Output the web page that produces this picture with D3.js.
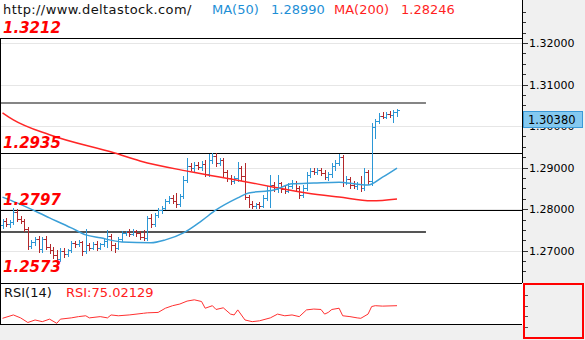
<!DOCTYPE html>
<html>
<head>
<meta charset="utf-8">
<script src="https://cdn.jsdelivr.net/npm/d3@7"></script>
<style>
  body { margin: 0; background: #fff; }
  svg { display: block; font-family: "DejaVu Sans", Verdana, sans-serif; }
</style>
</head>
<body>
<svg id="chart" width="585" height="340"></svg>
<script>
// ---- OHLC bars (hourly) ----
const openP = [1.2762,1.2772,1.2764,1.2769,1.2793,1.2776,1.2772,1.2752,1.2711,1.2721,
  1.2728,1.2704,1.2728,1.2709,1.2702,1.2690,1.2680,1.2699,1.2692,1.2702,
  1.2719,1.2716,1.2721,1.2699,1.2714,1.2707,1.2716,1.2707,1.2716,1.2723,
  1.2736,1.2714,1.2707,1.2728,1.2743,1.2745,1.2740,1.2748,1.2743,1.2733,
  1.2731,1.2779,1.2764,1.2786,1.2798,1.2803,1.2820,1.2827,1.2820,1.2813,
  1.2832,1.2870,1.2904,1.2899,1.2906,1.2902,1.2909,1.2885,1.2918,1.2928,
  1.2911,1.2918,1.2890,1.2875,1.2868,1.2875,1.2899,1.2880,1.2829,1.2813,
  1.2808,1.2813,1.2808,1.2827,1.2846,1.2858,1.2849,1.2863,1.2849,1.2844,
  1.2856,1.2863,1.2851,1.2834,1.2851,1.2882,1.2892,1.2890,1.2894,1.2887,
  1.2878,1.2885,1.2904,1.2911,1.2926,1.2865,1.2873,1.2858,1.2856,1.2861,
  1.2851,1.2890,1.2868,1.2998,1.3012,1.3024,1.3022,1.3029,1.3027,1.3034];
const highP = [1.2776,1.2779,1.2774,1.2803,1.2800,1.2784,1.2776,1.2757,1.2726,1.2733,
  1.2736,1.2733,1.2736,1.2716,1.2709,1.2702,1.2707,1.2707,1.2704,1.2723,
  1.2723,1.2726,1.2723,1.2752,1.2719,1.2721,1.2723,1.2719,1.2728,1.2750,
  1.2740,1.2719,1.2733,1.2748,1.2748,1.2752,1.2752,1.2750,1.2748,1.2750,
  1.2784,1.2788,1.2791,1.2803,1.2808,1.2825,1.2832,1.2834,1.2839,1.2837,
  1.2880,1.2923,1.2911,1.2914,1.2914,1.2916,1.2918,1.2933,1.2935,1.2935,
  1.2923,1.2923,1.2894,1.2882,1.2880,1.2914,1.2904,1.2911,1.2834,1.2820,
  1.2815,1.2817,1.2834,1.2856,1.2882,1.2865,1.2882,1.2865,1.2856,1.2863,
  1.2870,1.2868,1.2856,1.2858,1.2890,1.2899,1.2899,1.2899,1.2899,1.2894,
  1.2890,1.2911,1.2918,1.2933,1.2930,1.2880,1.2878,1.2868,1.2865,1.2880,
  1.2899,1.2894,1.3007,1.3017,1.3032,1.3034,1.3034,1.3036,1.3038,1.3041];
const lowP = [1.2755,1.2760,1.2757,1.2764,1.2772,1.2767,1.2748,1.2704,1.2707,1.2714,
  1.2697,1.2697,1.2704,1.2695,1.2683,1.2668,1.2675,1.2685,1.2687,1.2697,
  1.2709,1.2711,1.2690,1.2695,1.2702,1.2704,1.2702,1.2704,1.2711,1.2709,
  1.2702,1.2697,1.2704,1.2723,1.2738,1.2736,1.2738,1.2736,1.2728,1.2726,
  1.2726,1.2757,1.2760,1.2781,1.2791,1.2800,1.2815,1.2815,1.2805,1.2808,
  1.2827,1.2865,1.2894,1.2890,1.2897,1.2894,1.2880,1.2880,1.2911,1.2904,
  1.2906,1.2880,1.2868,1.2861,1.2863,1.2868,1.2870,1.2825,1.2805,1.2803,
  1.2803,1.2803,1.2805,1.2822,1.2805,1.2844,1.2841,1.2841,1.2839,1.2841,
  1.2851,1.2846,1.2827,1.2829,1.2846,1.2878,1.2885,1.2885,1.2882,1.2873,
  1.2870,1.2878,1.2894,1.2906,1.2856,1.2861,1.2851,1.2851,1.2849,1.2844,
  1.2846,1.2861,1.2858,1.2971,1.3007,1.3020,1.3020,1.3022,1.3010,1.3024];
const closeP = [1.2772,1.2764,1.2769,1.2793,1.2776,1.2772,1.2752,1.2711,1.2721,1.2728,
  1.2704,1.2728,1.2709,1.2702,1.2690,1.2680,1.2699,1.2692,1.2702,1.2719,
  1.2716,1.2721,1.2699,1.2714,1.2707,1.2716,1.2707,1.2716,1.2723,1.2736,
  1.2714,1.2707,1.2728,1.2743,1.2745,1.2740,1.2748,1.2743,1.2733,1.2731,
  1.2779,1.2764,1.2786,1.2798,1.2803,1.2820,1.2827,1.2820,1.2813,1.2832,
  1.2870,1.2904,1.2899,1.2906,1.2902,1.2909,1.2885,1.2918,1.2928,1.2911,
  1.2918,1.2890,1.2875,1.2868,1.2875,1.2899,1.2880,1.2829,1.2813,1.2808,
  1.2813,1.2808,1.2827,1.2846,1.2858,1.2849,1.2863,1.2849,1.2844,1.2856,
  1.2863,1.2851,1.2834,1.2851,1.2882,1.2892,1.2890,1.2894,1.2887,1.2878,
  1.2885,1.2904,1.2911,1.2926,1.2865,1.2873,1.2858,1.2856,1.2861,1.2851,
  1.2890,1.2868,1.2998,1.3012,1.3024,1.3022,1.3029,1.3027,1.3034,1.30380];

// ---- moving averages (bar index, value) ----
const ma50Idx = [0,4,13,19,23,27,33,41,45,50,55,59,65,68,75,80,86,93,98,101,105,109];
const ma50Val = [1.2829,1.2815,1.2779,1.2755,1.2738,1.2731,1.2721,1.2719,1.2726,1.2743,1.2772,1.2798,
  1.2827,1.2839,1.2846,1.2861,1.2863,1.2865,1.2860,1.2858,1.2877,1.28990];
const ma200Idx = [0,3,13,31,38,52,66,75,84,93,102,109];
const ma200Val = [1.3032,1.3015,1.2979,1.2935,1.2916,1.2890,1.2868,1.2853,1.2839,1.2829,1.2820,1.28246];

// ---- RSI(14) ----
const rsiIdx = [0,3,5,7,9,11,13,15,16,19,21,23,24,27,29,30,32,35,39,40,43,45,47,49,51,53,55,56,58,59,
  61,63,64,65,67,69,71,74,76,78,80,82,84,86,88,89,90,91,93,94,96,98,99,101,102,103,105,109];
const rsiVal = [45,53,46,35,41,37,43,33,43,46,49,51,46,49,46,53,51,53,57,58,59,69,75,79,86,89,85,69,75,66,
  70,55,53,65,41,37,39,46,55,51,53,49,65,67,66,55,59,66,69,51,49,46,45,55,73,75,74,75.02129];
const rsiTicks = [25,50,75,100];

// ---- axis & levels ----
const priceTicks = [1.27,1.28,1.29,1.30,1.31,1.32];
const minorStep = 0.0025;
const levels = [1.3212, 1.2935, 1.2797, 1.2573];
const channelVals = [1.3055, 1.2745];
const channelEndIdx = 117;
const lastPrice = 1.30380, ma50Last = 1.28990, ma200Last = 1.28246, rsiLast = 75.02129;

// ---- layout ----
const W = 585, H = 340, plotR = 522, mainTop = 0, mainBot = 283, rsiTop = 283, rsiBot = 324;
const upCol = "#2b97d6", downCol = "#b3282b", ma50Col = "#3a9fd8", ma200Col = "#ff2626";

const svg = d3.select("#chart");
const x = d3.scaleLinear().domain([0, closeP.length - 1]).range([2.5, 397]);
const y = d3.scaleLinear().domain([1.27, 1.32]).range([250.7, 43]);
const yr = d3.scaleLinear().domain([0, 100]).range([337.2, 295.2]);
const px = v => Math.round(v) + 0.5;

// backgrounds
svg.append("rect").attr("width", W).attr("height", H).attr("fill", "#fff");
svg.append("rect").attr("x", plotR + 1).attr("y", 0).attr("width", W - plotR - 1).attr("height", H).attr("fill", "#f0f0f0");
svg.append("rect").attr("x", 0).attr("y", rsiBot + 1).attr("width", W).attr("height", H - rsiBot - 1).attr("fill", "#f0f0f0");

// main panel
svg.append("clipPath").attr("id", "mainClip").append("rect")
  .attr("x", 0).attr("y", mainTop).attr("width", plotR).attr("height", mainBot - mainTop);
const main = svg.append("g").attr("clip-path", "url(#mainClip)");

main.selectAll("line.grid").data(priceTicks).join("line").attr("class", "grid")
  .attr("x1", 0).attr("x2", plotR).attr("y1", d => px(y(d))).attr("y2", d => px(y(d)))
  .attr("stroke", "#e6e6e6").attr("stroke-width", 1);

main.selectAll("line.chan").data(channelVals).join("line").attr("class", "chan")
  .attr("x1", 0).attr("x2", x(channelEndIdx)).attr("y1", d => Math.round(y(d))).attr("y2", d => Math.round(y(d)))
  .attr("stroke", (d, i) => i === 0 ? "#858585" : "#555").attr("stroke-width", 2);

main.selectAll("line.lvl").data(levels).join("line").attr("class", "lvl")
  .attr("x1", 0).attr("x2", plotR).attr("y1", d => px(y(d))).attr("y2", d => px(y(d)))
  .attr("stroke", "#000").attr("stroke-width", 1);

// bars
const bars = main.append("g").attr("shape-rendering", "crispEdges");
closeP.forEach((c, i) => {
  const X = Math.round(x(i));
  const col = c >= openP[i] ? upCol : downCol;
  const yH = Math.round(y(highP[i])), yL = Math.round(y(lowP[i]));
  bars.append("rect").attr("x", X).attr("y", yH).attr("width", 1).attr("height", Math.max(1, yL - yH + 1)).attr("fill", col);
  bars.append("rect").attr("x", X - 2).attr("y", Math.round(y(openP[i]))).attr("width", 2).attr("height", 1).attr("fill", col);
  bars.append("rect").attr("x", X + 1).attr("y", Math.round(y(c))).attr("width", 2).attr("height", 1).attr("fill", col);
});

// moving averages
const line = d3.line().curve(d3.curveMonotoneX);
main.append("path").attr("d", line(ma200Idx.map((d, i) => [x(d), y(ma200Val[i])])))
  .attr("fill", "none").attr("stroke", ma200Col).attr("stroke-width", 1.5);
main.append("path").attr("d", line(ma50Idx.map((d, i) => [x(d), y(ma50Val[i])])))
  .attr("fill", "none").attr("stroke", ma50Col).attr("stroke-width", 1.5);

// level labels
main.selectAll("text.lvl").data(levels).join("text").attr("class", "lvl")
  .attr("x", 3).attr("y", d => Math.min(y(d) - 5, mainBot - 11))
  .attr("fill", "#ff0000").attr("font-size", 15).attr("font-weight", "bold").attr("font-style", "italic")
  .text(d => d.toFixed(4));

// header
const hdr = svg.append("g").attr("font-size", 13);
hdr.append("text").attr("x", 3).attr("y", 14).attr("fill", "#111").attr("letter-spacing", 0.4).text("http://www.deltastock.com/");
hdr.append("text").attr("x", 212).attr("y", 14).attr("fill", "#1e8fd6").text("MA(50)");
hdr.append("text").attr("x", 271).attr("y", 14).attr("fill", "#1e8fd6").text(ma50Last.toFixed(5));
hdr.append("text").attr("x", 334).attr("y", 14).attr("fill", "#ff1f1f").text("MA(200)");
hdr.append("text").attr("x", 401).attr("y", 14).attr("fill", "#ff1f1f").text(ma200Last.toFixed(5));

// right price axis
svg.append("line").attr("x1", plotR + 0.5).attr("x2", plotR + 0.5).attr("y1", 0).attr("y2", mainBot)
  .attr("stroke", "#000");
const minorTicks = d3.range(1.2625, 1.3301, minorStep).filter(v => y(v) > 2 && y(v) < mainBot - 2);
svg.selectAll("line.minor").data(minorTicks).join("line").attr("class", "minor")
  .attr("x1", plotR + 1).attr("x2", plotR + 4).attr("y1", d => px(y(d))).attr("y2", d => px(y(d)))
  .attr("stroke", "#333");
svg.selectAll("line.major").data(priceTicks).join("line").attr("class", "major")
  .attr("x1", plotR + 1).attr("x2", plotR + 6).attr("y1", d => px(y(d))).attr("y2", d => px(y(d)))
  .attr("stroke", "#333");
svg.selectAll("text.tick").data(priceTicks).join("text").attr("class", "tick")
  .attr("x", 529).attr("y", d => y(d)).attr("dy", "0.36em").attr("font-size", 11).attr("fill", "#000")
  .text(d => d.toFixed(5));

// last price marker
const yl = Math.round(y(lastPrice));
svg.append("rect").attr("x", plotR + 1.5).attr("y", yl + 1.5).attr("width", 59).attr("height", 16)
  .attr("fill", "#84c9f0").attr("stroke", "#3a9ad9");
svg.append("text").attr("x", 528).attr("y", yl + 9.5).attr("dy", "0.36em").attr("font-size", 11.5)
  .attr("fill", "#000").text(lastPrice.toFixed(5));

// RSI panel
svg.append("clipPath").attr("id", "rsiClip").append("rect")
  .attr("x", 0).attr("y", rsiTop).attr("width", plotR).attr("height", rsiBot - rsiTop);
const rsiG = svg.append("g").attr("clip-path", "url(#rsiClip)");
rsiG.append("path").attr("d", d3.line()(rsiIdx.map((d, i) => [x(d), yr(rsiVal[i])])))
  .attr("fill", "none").attr("stroke", "#ff3030").attr("stroke-width", 1);
svg.append("text").attr("x", 4).attr("y", 297).attr("font-size", 13).attr("fill", "#111").text("RSI(14)");
svg.append("text").attr("x", 66).attr("y", 297).attr("font-size", 13).attr("fill", "#ff2020").text("RSI:" + rsiLast.toFixed(5));

svg.selectAll("line.rtick").data(rsiTicks).join("line").attr("class", "rtick")
  .attr("x1", plotR + 2).attr("x2", plotR + 6).attr("y1", d => px(yr(d))).attr("y2", d => px(yr(d)))
  .attr("stroke", "#555");

// panel frames
svg.append("line").attr("x1", 0).attr("x2", plotR).attr("y1", rsiTop + 0.5).attr("y2", rsiTop + 0.5).attr("stroke", "#000");
svg.append("line").attr("x1", 0).attr("x2", plotR).attr("y1", rsiBot + 0.5).attr("y2", rsiBot + 0.5).attr("stroke", "#000");
svg.append("line").attr("x1", 0.5).attr("x2", 0.5).attr("y1", 38).attr("y2", rsiBot).attr("stroke", "#000");
svg.append("rect").attr("x", plotR + 2).attr("y", rsiTop + 1).attr("width", W - plotR - 4).attr("height", H - rsiTop - 3)
  .attr("fill", "none").attr("stroke", "#ff0000").attr("stroke-width", 2);
</script>
</body>
</html>
